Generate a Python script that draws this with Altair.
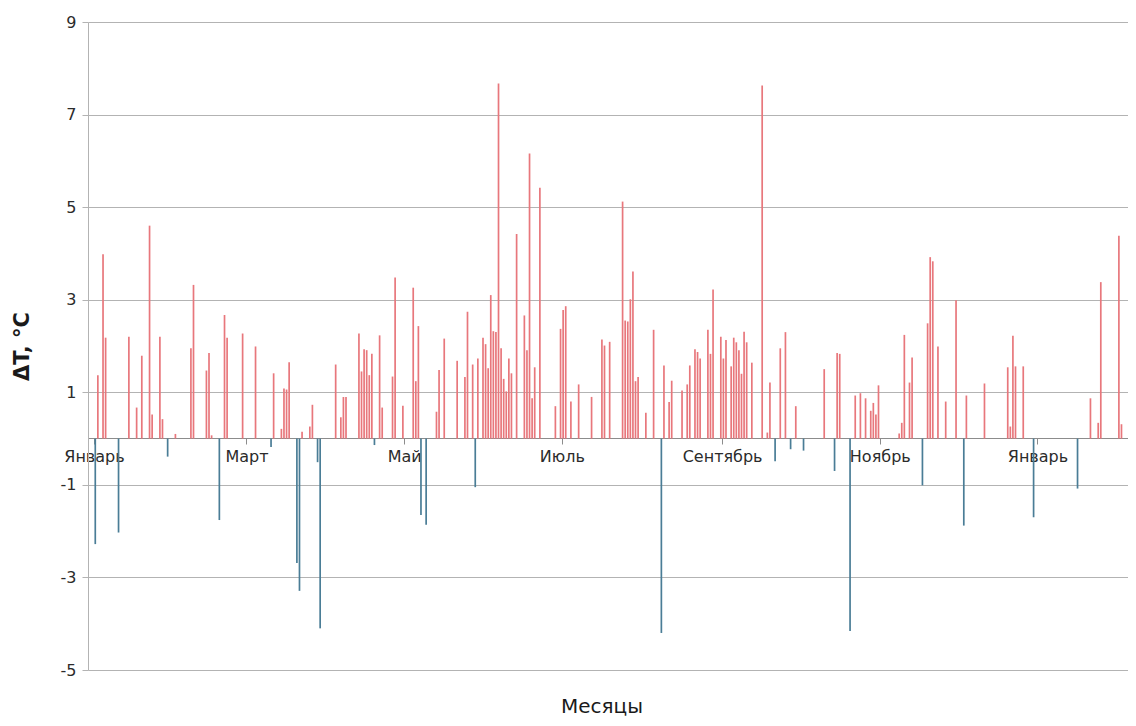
import altair as alt
import pandas as pd

# Dates of the measurements and the temperature deviation ΔT, °C
dates = [
    "2013-01-01", "2013-01-02", "2013-01-04", "2013-01-05", "2013-01-10", "2013-01-14",
    "2013-01-17", "2013-01-19", "2013-01-22", "2013-01-23", "2013-01-26", "2013-01-27",
    "2013-01-29", "2013-02-01", "2013-02-07", "2013-02-08", "2013-02-13", "2013-02-14",
    "2013-02-15", "2013-02-18", "2013-02-20", "2013-02-21", "2013-02-27", "2013-03-04",
    "2013-03-10", "2013-03-11", "2013-03-14", "2013-03-15", "2013-03-16", "2013-03-17",
    "2013-03-20", "2013-03-21", "2013-03-22", "2013-03-25", "2013-03-26", "2013-03-28",
    "2013-03-29", "2013-04-04", "2013-04-06", "2013-04-07", "2013-04-08", "2013-04-13",
    "2013-04-14", "2013-04-15", "2013-04-16", "2013-04-17", "2013-04-18", "2013-04-19",
    "2013-04-21", "2013-04-22", "2013-04-26", "2013-04-27", "2013-04-30", "2013-05-04",
    "2013-05-05", "2013-05-06", "2013-05-07", "2013-05-09", "2013-05-13", "2013-05-14",
    "2013-05-16", "2013-05-21", "2013-05-24", "2013-05-25", "2013-05-27", "2013-05-28",
    "2013-05-29", "2013-05-31", "2013-06-01", "2013-06-02", "2013-06-03", "2013-06-04",
    "2013-06-05", "2013-06-06", "2013-06-07", "2013-06-08", "2013-06-09", "2013-06-10",
    "2013-06-11", "2013-06-13", "2013-06-16", "2013-06-17", "2013-06-18", "2013-06-19",
    "2013-06-20", "2013-06-22", "2013-06-28", "2013-06-30", "2013-07-01", "2013-07-02",
    "2013-07-04", "2013-07-07", "2013-07-12", "2013-07-16", "2013-07-17", "2013-07-19",
    "2013-07-24", "2013-07-25", "2013-07-26", "2013-07-27", "2013-07-28", "2013-07-29",
    "2013-07-30", "2013-08-02", "2013-08-05", "2013-08-08", "2013-08-09", "2013-08-11",
    "2013-08-12", "2013-08-16", "2013-08-18", "2013-08-19", "2013-08-21", "2013-08-22",
    "2013-08-23", "2013-08-26", "2013-08-27", "2013-08-28", "2013-08-31", "2013-09-01",
    "2013-09-02", "2013-09-04", "2013-09-05", "2013-09-06", "2013-09-07", "2013-09-08",
    "2013-09-09", "2013-09-10", "2013-09-12", "2013-09-16", "2013-09-18", "2013-09-19",
    "2013-09-21", "2013-09-23", "2013-09-25", "2013-09-27", "2013-09-29", "2013-10-02",
    "2013-10-10", "2013-10-14", "2013-10-15", "2013-10-16", "2013-10-20", "2013-10-22",
    "2013-10-24", "2013-10-26", "2013-10-28", "2013-10-29", "2013-10-30", "2013-10-31",
    "2013-11-08", "2013-11-09", "2013-11-10", "2013-11-12", "2013-11-13", "2013-11-17",
    "2013-11-19", "2013-11-20", "2013-11-21", "2013-11-23", "2013-11-26", "2013-11-30",
    "2013-12-03", "2013-12-04", "2013-12-11", "2013-12-20", "2013-12-21", "2013-12-22",
    "2013-12-23", "2013-12-26", "2013-12-30", "2014-01-16", "2014-01-21", "2014-01-24",
    "2014-01-25", "2014-02-01", "2014-02-02", "2014-02-05",
]

delta_t = [
    -2.28, 1.37, 3.98, 2.18, -2.03, 2.2,
    0.67, 1.79, 4.6, 0.52, 2.2, 0.42,
    -0.39, 0.1, 1.95, 3.32, 1.47, 1.85,
    0.07, -1.76, 2.67, 2.18, 2.27, 1.99,
    -0.18, 1.41, 0.21, 1.08, 1.06, 1.65,
    -2.69, -3.29, 0.15, 0.26, 0.73, -0.51,
    -4.1, 1.6, 0.46, 0.9, 0.9, 2.27,
    1.45, 1.93, 1.91, 1.37, 1.83, -0.14,
    2.23, 0.67, 1.34, 3.48, 0.71, 3.26,
    1.24, 2.43, -1.65, -1.86, 0.58, 1.48,
    2.16, 1.68, 1.33, 2.74, 1.6, -1.05,
    1.73, 2.18, 2.04, 1.52, 3.1, 2.32,
    2.3, 7.67, 1.95, 1.29, 1.02, 1.73,
    1.41, 4.42, 2.66, 1.91, 6.16, 0.87,
    1.54, 5.42, 0.7, 2.37, 2.78, 2.86,
    0.8, 1.17, 0.9, 2.14, 2.01, 2.09,
    5.12, 2.55, 2.53, 3.01, 3.61, 1.24,
    1.33, 0.56, 2.35, -4.2, 1.58, 0.79,
    1.25, 1.04, 1.17, 1.58, 1.93, 1.87,
    1.73, 2.35, 1.83, 3.22, 2.2, 1.73,
    2.13, 1.56, 2.18, 2.08, 1.91, 1.4,
    2.31, 2.08, 1.64, 7.63, 0.13, 1.21,
    -0.49, 1.95, 2.3, -0.23, 0.7, -0.26,
    1.5, -0.7, 1.85, 1.83, -4.16, 0.93,
    0.98, 0.87, 0.6, 0.77, 0.52, 1.15,
    0.11, 0.34, 2.24, 1.21, 1.75, -1.01,
    2.49, 3.92, 3.83, 1.99, 0.8, 2.99,
    -1.88, 0.93, 1.19, 1.54, 0.26, 2.22,
    1.56, 1.56, -1.7, -1.08, 0.87, 0.34,
    3.38, 4.38, 0.31, 3.85,
]

month_names = ["Январь", "Февраль", "Март", "Апрель", "Май", "Июнь",
               "Июль", "Август", "Сентябрь", "Октябрь", "Ноябрь", "Декабрь"]
y_ticks = [-5, -3, -1, 1, 3, 5, 7, 9]

POS = "#e8777c"
NEG = "#4a7d96"
GRID = "#b3b3b3"

# each daily value is drawn in the middle of its day
df = pd.DataFrame({
    "date": [d + "T12:00:00" for d in dates],
    "value": delta_t,
})

month_expr = "[" + ",".join("'" + m + "'" for m in month_names) + "][month(datum.value)]"

tick_dates = [alt.DateTime(year=2013, month=m, date=1) for m in (1, 3, 5, 7, 9, 11)] + [
    alt.DateTime(year=2014, month=1, date=1)
]

PLOT_W = 1040
PLOT_H = 648

chart = (
    alt.Chart(df)
    .mark_bar(size=1.7)
    .encode(
        x=alt.X(
            "date:T",
            scale=alt.Scale(
                domain=[
                    alt.DateTime(year=2012, month=12, date=31, hours=14, minutes=53),
                    alt.DateTime(year=2014, month=2, date=3, hours=2, minutes=10),
                ]
            ),
            axis=alt.Axis(
                title=None,
                values=tick_dates,
                labelExpr=month_expr,
                offset=-232,
                grid=False,
                domainColor="#8c8c8c",
                tickColor="#8c8c8c",
                tickSize=6,
                labelPadding=4,
                labelFont="DejaVu Sans",
                labelFontSize=16,
                labelColor="#2b2b2b",
                labelFlush=False,
                labelOverlap=False,
                labelBound=False,
            ),
        ),
        y=alt.Y(
            "value:Q",
            scale=alt.Scale(domain=[-5, 9], nice=False),
            axis=alt.Axis(
                values=y_ticks,
                labelExpr="'' + datum.value",
                title="ΔT, °C",
                titleFont="DejaVu Sans",
                titleFontSize=21,
                titleFontWeight="bold",
                titleColor="#1a1a1a",
                titleAngle=270,
                titleX=-66,
                titleY=PLOT_H / 2,
                titleAlign="center",
                titleBaseline="middle",
                labelFont="DejaVu Sans",
                labelFontSize=16,
                labelColor="#2b2b2b",
                labelPadding=6,
                tickSize=6,
                tickColor=GRID,
                domainColor=GRID,
                gridColor=GRID,
            ),
        ),
        color=alt.condition("datum.value > 0", alt.value(POS), alt.value(NEG)),
    )
    .properties(
        width=PLOT_W,
        height=PLOT_H,
        title=alt.TitleParams(
            "Месяцы",
            orient="bottom",
            anchor="middle",
            font="DejaVu Sans",
            fontSize=20,
            fontWeight="normal",
            color="#1a1a1a",
            baseline="alphabetic",
            offset=35,
            dx=-6,
        ),
        autosize=alt.AutoSizeParams(type="none"),
        padding={"left": 80, "top": 14, "right": 0, "bottom": 48},
    )
    .configure_view(strokeWidth=0)
)

chart.save("out.html", embed_options={"renderer": "svg", "actions": False})
